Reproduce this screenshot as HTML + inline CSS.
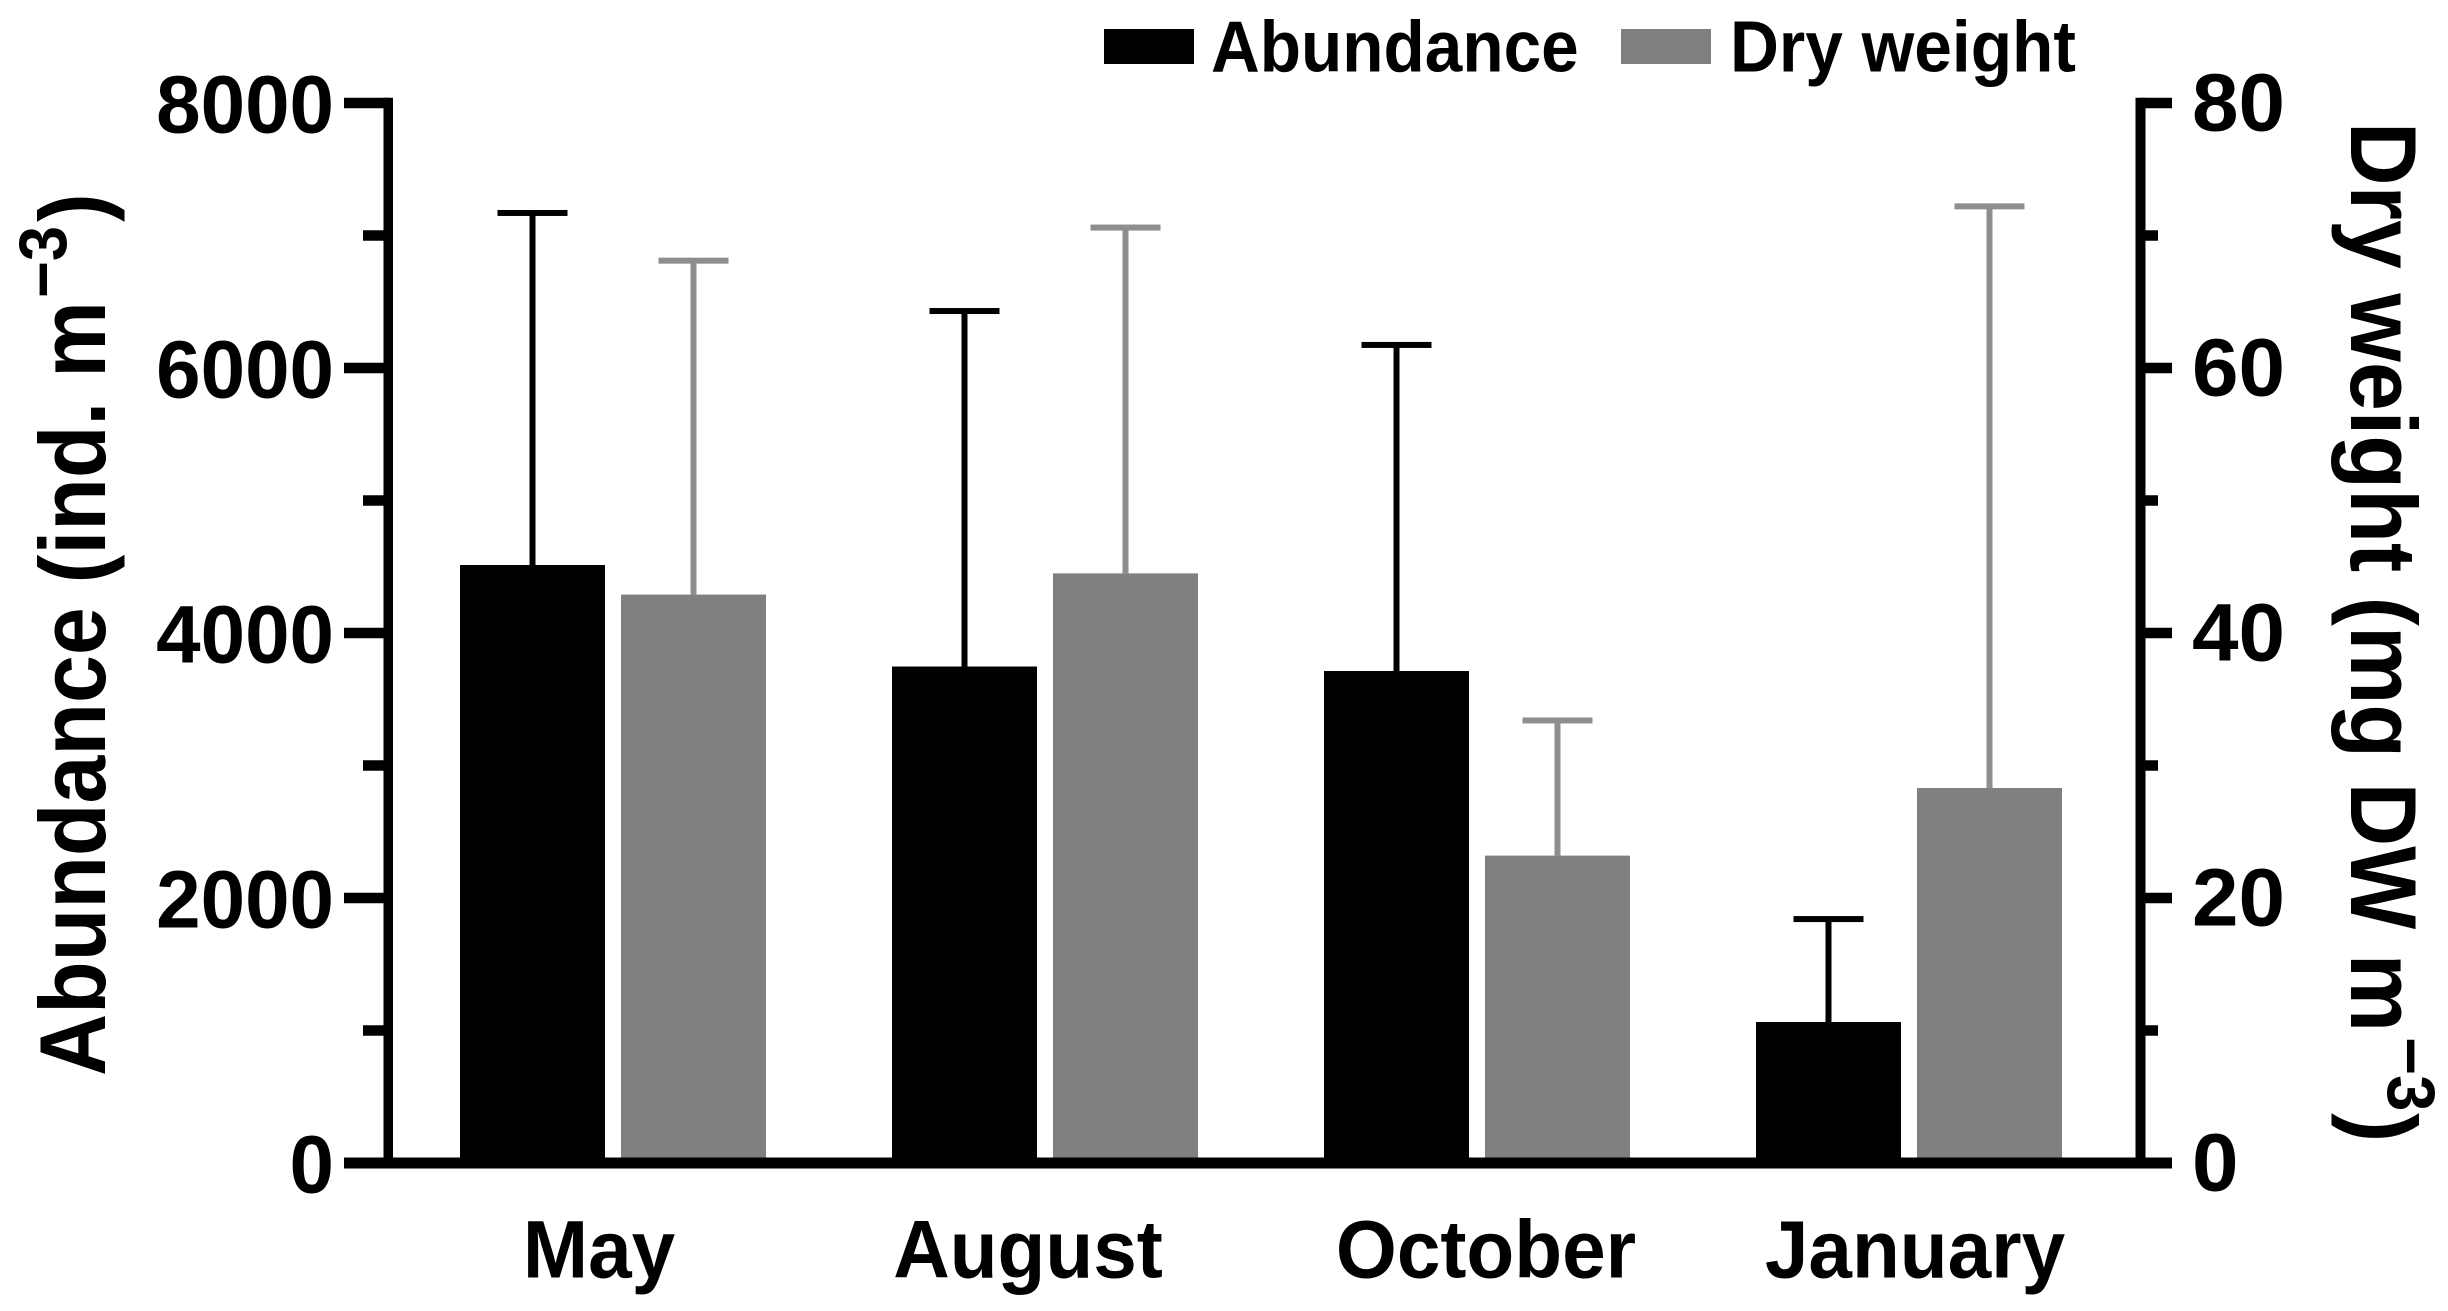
<!DOCTYPE html>
<html lang="en">
<head>
<meta charset="utf-8">
<title>Abundance and dry weight by month</title>
<style>
  html, body { margin: 0; padding: 0; background: #fff; }
  svg { display: block; }
  text { font-family: "Liberation Sans", Arial, sans-serif; font-weight: 700; fill: #000; }
</style>
</head>
<body>
<svg id="chart" xmlns="http://www.w3.org/2000/svg" width="2448" height="1311" viewBox="0 0 2448 1311">
  <rect x="0" y="0" width="2448" height="1311" fill="#ffffff"/>

  <g id="marks"></g>
  <g id="axes"></g>

  <g>
    <text font-size="94" transform="translate(105,1076) rotate(-90) scale(0.916,1)">Abundance (ind. m</text>
    <text font-size="68" transform="translate(66,298) rotate(-90) scale(0.93,1)">−3</text>
    <text font-size="94" transform="translate(105,222) rotate(-90) scale(0.916,1)">)</text>
  </g>

  <g>
    <text font-size="94" transform="translate(2351,122) rotate(90) scale(0.937,1)">Dry weight (mg DW m</text>
    <text font-size="68" transform="translate(2388,1037) rotate(90) scale(0.96,1)">−3</text>
    <text font-size="94" transform="translate(2351,1113) rotate(90) scale(0.937,1)">)</text>
  </g>

  <g>
    <g>
      <rect x="1104" y="29" width="90" height="35" fill="#000000"/>
      <text font-size="72" transform="translate(1211,71.5) scale(0.938,1)">Abundance</text>
    </g>
    <g>
      <rect x="1621" y="29" width="90" height="35" fill="#808080"/>
      <text font-size="72" transform="translate(1730,71.5) scale(0.94,1)">Dry weight</text>
    </g>
  </g>
</svg>

<script>
// ---- chart data ----
var categories = ['May', 'August', 'October', 'January'];
var abundanceValues = [4513, 3747, 3713, 1064];
var abundanceErrors = [2657, 2683, 2461, 777];
var dryWeightValues = [42.9, 44.5, 23.2, 28.3];
var dryWeightErrors = [25.2, 26.1, 10.2, 43.9];
var leftMajorTicks = [0, 2000, 4000, 6000, 8000];
var leftMinorTicks = [1000, 3000, 5000, 7000];
var rightMajorTicks = [0, 20, 40, 60, 80];
var rightMinorTicks = [10, 30, 50, 70];
var categoryLabelNudge = [-14, -17, 9, 6];

// ---- layout ----
var SVG_NS = 'http://www.w3.org/2000/svg';
var plotTop = 103;
var plotBottom = 1163;
var leftMax = 8000;
var rightMax = 80;
var firstGroupLeft = 460;
var groupStep = 432;
var barWidth = 145;
var secondBarOffset = 161;
var capWidth = 70;
var blackColor = '#000000';
var greyBarColor = '#808080';
var greyErrorColor = '#8e8e8e';

function yLeft(v) { return plotBottom - (v / leftMax) * (plotBottom - plotTop); }
function yRight(v) { return plotBottom - (v / rightMax) * (plotBottom - plotTop); }
function xBar(groupIndex, seriesIndex) { return firstGroupLeft + groupIndex * groupStep + seriesIndex * secondBarOffset; }

function makeRect(parent, x, y, w, h, fill) {
  var el = document.createElementNS(SVG_NS, 'rect');
  el.setAttribute('x', x);
  el.setAttribute('y', y);
  el.setAttribute('width', w);
  el.setAttribute('height', h);
  el.setAttribute('fill', fill);
  parent.appendChild(el);
  return el;
}

function makeText(parent, str, size, anchor, x, y, widthScale) {
  var el = document.createElementNS(SVG_NS, 'text');
  el.textContent = str;
  el.setAttribute('font-size', size);
  el.setAttribute('text-anchor', anchor);
  el.setAttribute('transform', 'translate(' + x + ',' + y + ') scale(' + widthScale + ',1)');
  parent.appendChild(el);
  return el;
}

var marks = document.getElementById('marks');
var axes = document.getElementById('axes');

function drawSeries(values, errors, scale, seriesIndex, barColor, errColor, slug) {
  values.forEach(function (value, i) {
    var x = xBar(i, seriesIndex);
    var cx = x + barWidth / 2;
    var top = scale(value);
    var errTop = scale(value + errors[i]);

    var stem = makeRect(marks, cx - 3, errTop, 6, top - errTop, errColor);
    
    

    var cap = makeRect(marks, cx - capWidth / 2, errTop - 3, capWidth, 6, errColor);
    
    

    var bar = makeRect(marks, x, top, barWidth, plotBottom - top, barColor);
    
    
  });
}

drawSeries(abundanceValues, abundanceErrors, yLeft, 0, blackColor, blackColor, 'abundance');
drawSeries(dryWeightValues, dryWeightErrors, yRight, 1, greyBarColor, greyErrorColor, 'dry-weight');

// axis spines
var xSpine = makeRect(axes, 344, plotBottom - 5.5, 1828, 11, blackColor);



var leftSpine = makeRect(axes, 383.5, plotTop - 5.25, 9.5, plotBottom - plotTop + 5.25, blackColor);



var rightSpine = makeRect(axes, 2135.5, plotTop - 5.25, 10, plotBottom - plotTop + 5.25, blackColor);



// left ticks
leftMajorTicks.forEach(function (v) {
  var tick = makeRect(axes, 344, yLeft(v) - 5.25, 45, 10.5, blackColor);
  
  

  var label = makeText(axes, String(v), 82, 'end', 334, yLeft(v) + 29.5, 0.975);
  
  
});
leftMinorTicks.forEach(function (v) {
  var tick = makeRect(axes, 363, yLeft(v) - 5.25, 26, 10.5, blackColor);
  
  
});

// right ticks
rightMajorTicks.forEach(function (v) {
  var tick = makeRect(axes, 2140, yRight(v) - 5.25, 32, 10.5, blackColor);
  
  

  var label = makeText(axes, String(v), 82, 'start', 2192, yRight(v) + 27.5, 1.02);
  
  
});
rightMinorTicks.forEach(function (v) {
  var tick = makeRect(axes, 2140, yRight(v) - 5.25, 18, 10.5, blackColor);
  
  
});

// category labels
categories.forEach(function (name, i) {
  var center = (xBar(i, 0) + xBar(i, 1) + barWidth) / 2 + categoryLabelNudge[i];
  var label = makeText(axes, name, 82, 'middle', center, 1277.5, 0.955);
  
  
});
</script>
</body>
</html>
